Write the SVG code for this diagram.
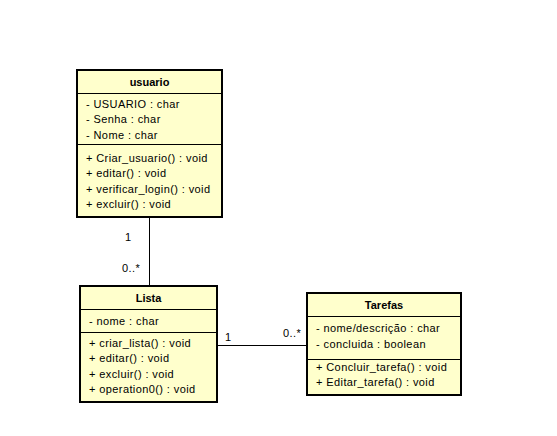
<svg xmlns="http://www.w3.org/2000/svg" width="557" height="436" viewBox="0 0 557 436">
<style>
.box{fill:#ffffcc;stroke:#000;stroke-width:2}
.div{stroke:#000;stroke-width:1}
.t{font-family:"Liberation Sans",Arial,sans-serif;font-size:11px;letter-spacing:0.4px;fill:#000}
.h{font-family:"Liberation Sans",Arial,sans-serif;font-size:11px;font-weight:bold;fill:#000;text-anchor:middle}
.c{stroke:#000;stroke-width:1;fill:none}
</style>
<rect width="557" height="436" fill="#fff"/>
<g id="connectors">
<line class="c" x1="149.5" y1="217" x2="149.5" y2="286"/>
<line class="c" x1="217" y1="345.5" x2="307" y2="345.5"/>
<text class="t" x="125" y="241">1</text>
<text class="t" x="122" y="272">0..*</text>
<text class="t" x="225" y="341">1</text>
<text class="t" x="283" y="337">0..*</text>
</g>
<g id="usuario">
<rect class="box" x="77" y="70" width="145" height="147"/>
<line class="div" x1="77" y1="93.5" x2="222" y2="93.5"/>
<line class="div" x1="77" y1="144.5" x2="222" y2="144.5"/>
<text class="h" x="149.5" y="86">usuario</text>
<text class="t" x="86" y="108">- USUARIO : char</text>
<text class="t" x="86" y="123">- Senha : char</text>
<text class="t" x="86" y="139">- Nome : char</text>
<text class="t" x="86" y="162">+ Criar_usuario() : void</text>
<text class="t" x="86" y="177">+ editar() : void</text>
<text class="t" x="86" y="193">+ verificar_login() : void</text>
<text class="t" x="86" y="208">+ excluir() : void</text>
</g>
<g id="Lista">
<rect class="box" x="80" y="286" width="137" height="116"/>
<line class="div" x1="80" y1="309.5" x2="217" y2="309.5"/>
<line class="div" x1="80" y1="332.5" x2="217" y2="332.5"/>
<text class="h" x="148.5" y="302">Lista</text>
<text class="t" x="89" y="325">- nome : char</text>
<text class="t" x="89" y="347">+ criar_lista() : void</text>
<text class="t" x="89" y="362">+ editar() : void</text>
<text class="t" x="89" y="378">+ excluir() : void</text>
<text class="t" x="89" y="393">+ operation0() : void</text>
</g>
<g id="Tarefas">
<rect class="box" x="307" y="293" width="154" height="102"/>
<line class="div" x1="307" y1="316.5" x2="461" y2="316.5"/>
<line class="div" x1="307" y1="359.5" x2="461" y2="359.5"/>
<text class="h" x="384" y="309">Tarefas</text>
<text class="t" x="316" y="332">- nome/descrição : char</text>
<text class="t" x="316" y="348">- concluida : boolean</text>
<text class="t" x="316" y="371">+ Concluir_tarefa() : void</text>
<text class="t" x="316" y="386">+ Editar_tarefa() : void</text>
</g>
</svg>
